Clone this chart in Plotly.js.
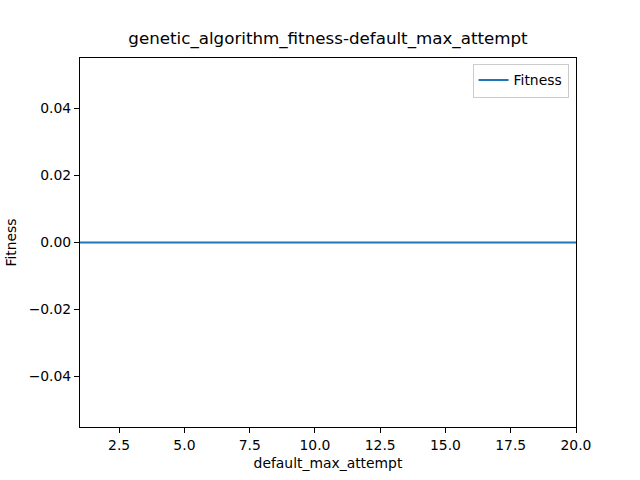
<!DOCTYPE html>
<html><head><script src="https://cdn.plot.ly/plotly-3.0.1.min.js"></script></head>
<body style="margin:0"><div id="c" style="width:640px;height:480px"></div>
<script>
const xValues = [1,2,3,4,5,6,7,8,9,10,11,12,13,14,15,16,17,18,19,20];
const fitness = [0,0,0,0,0,0,0,0,0,0,0,0,0,0,0,0,0,0,0,0];
const f = {family:"DejaVu Sans", size:13.9, color:"#000"};
Plotly.newPlot("c", [{x:xValues, y:fitness, mode:"lines", name:"Fitness", line:{color:"#1f77b4", width:2}}], {
  width:640, height:480, font:f, showlegend:true,
  paper_bgcolor:"#fff", plot_bgcolor:"#fff",
  margin:{l:80, r:64, t:58, b:53},
  title:{text:"genetic_algorithm_fitness-default_max_attempt", font:{family:"DejaVu Sans", size:16.7}, x:0.5, xref:"paper", y:0.92, yanchor:"middle"},
  xaxis:{range:[1,20], tickvals:[2.5,5,7.5,10,12.5,15,17.5,20], tickformat:".1f", showgrid:false, zeroline:false, showline:true, mirror:true, linecolor:"#000", linewidth:1, ticks:"outside", ticklen:5, tickcolor:"#000",
    title:{text:"default_max_attempt", font:f, standoff:6}},
  yaxis:{range:[-0.0551,0.0551], tickvals:[-0.04,-0.02,0,0.02,0.04], tickformat:".2f", showgrid:false, zeroline:false, showline:true, mirror:true, linecolor:"#000", linewidth:1, ticks:"outside", ticklen:5, tickcolor:"#000",
    title:{text:"Fitness", font:f, standoff:8}},
  legend:{x:0.985, y:0.985, xanchor:"right", yanchor:"top", bordercolor:"#ccc", borderwidth:1, bgcolor:"rgba(255,255,255,0.8)", font:f}
}, {staticPlot:true});
</script></body></html>
